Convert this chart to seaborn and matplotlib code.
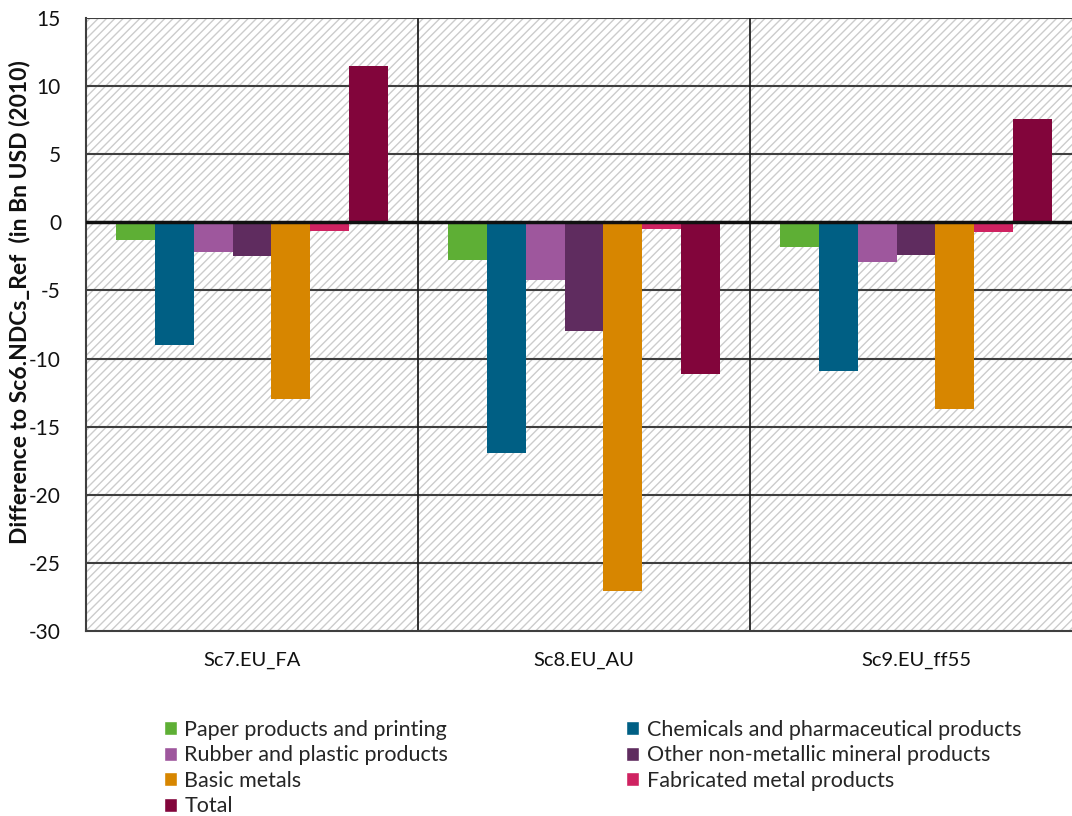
import matplotlib
matplotlib.use("Agg")
import matplotlib.pyplot as plt
from matplotlib.patches import Rectangle
import seaborn as sns
import pandas as pd

scenarios = ["Sc7.EU_FA", "Sc8.EU_AU", "Sc9.EU_ff55"]
sectors = [
    "Paper products and printing",
    "Chemicals and pharmaceutical products",
    "Rubber and plastic products",
    "Other non-metallic mineral products",
    "Basic metals",
    "Fabricated metal products",
    "Total",
]
paper = [-1.3, -2.8, -1.8]
chemicals = [-9.0, -16.9, -10.9]
rubber = [-2.2, -4.2, -2.9]
non_metallic = [-2.5, -8.0, -2.4]
basic_metals = [-13.0, -27.1, -13.7]
fabricated = [-0.6, -0.5, -0.7]
total = [11.5, -11.1, 7.6]
colors = ["#5EAF35", "#005F84", "#9E579D", "#5F2C5F", "#D78600", "#CF2261", "#82053B"]

series = [paper, chemicals, rubber, non_metallic, basic_metals, fabricated, total]
rows = []
for name, vals in zip(sectors, series):
    for sc, v in zip(scenarios, vals):
        rows.append({"Scenario": sc, "Sector": name, "Value": v})
df = pd.DataFrame(rows)

sns.set_theme(style="white")
plt.rcParams["font.family"] = ["Lato", "DejaVu Sans"]
plt.rcParams["hatch.linewidth"] = 1.0
plt.rcParams["axes.unicode_minus"] = False

fig = plt.figure(figsize=(10.72, 8.16), dpi=100)
ax = fig.add_axes([86 / 1072, 1 - 631 / 816, (1082 - 86) / 1072, (631 - 18) / 816])

# hatched plot-area background
ax.add_patch(Rectangle((0, 0), 1, 1, transform=ax.transAxes, facecolor="white",
                       edgecolor="#cccccc", hatch="////", linewidth=0, zorder=0))

sns.barplot(data=df, x="Scenario", y="Value", hue="Sector", hue_order=sectors,
            palette=colors, width=0.82, gap=0, saturation=1, ax=ax, zorder=3,
            edgecolor="none", legend=False)

ax.set_xlim(-0.5, 2.5)
ax.set_ylim(-30, 15)
ax.set_yticks(range(-30, 16, 5))
for y in range(-25, 16, 5):
    if y == 0:
        continue
    ax.axhline(y, color="#3f3f3f", lw=1.5, zorder=2)
ax.axhline(0, color="#111111", lw=2.5, zorder=4)
for xv in [0.5, 1.5]:
    ax.axvline(xv, color="#222222", lw=1.3, zorder=2)

for side in ["top", "right"]:
    ax.spines[side].set_visible(False)
for side in ["left", "bottom"]:
    ax.spines[side].set_color("#3f3f3f")
    ax.spines[side].set_linewidth(1.5)

ax.tick_params(axis="y", length=0, pad=18, labelsize=15, colors="#111111")
ax.tick_params(axis="x", length=0, pad=15, labelsize=14.5, colors="#111111")
ax.set_xlabel("")
ax.set_ylabel("Difference to Sc6.NDCs_Ref  (in Bn USD (2010)", fontsize=16.5,
              fontweight="bold", color="#111111")
ax.yaxis.set_label_coords(-56 / 996, 0.537)

# legend: two columns, filled column by column
order = [0, 2, 4, 6, 1, 3, 5]
handles = [Rectangle((0, 0), 1, 1, facecolor=colors[i]) for i in order]
labels = [sectors[i] for i in order]
fig.legend(handles, labels, ncol=2, loc="upper left", bbox_to_anchor=(155 / 1072, 1 - 711 / 816),
           frameon=False, fontsize=15.5, handlelength=0.62, handleheight=0.62,
           handletextpad=0.35, columnspacing=8.25, labelspacing=0.26, borderaxespad=0)

fig.savefig("out.png", dpi=100)
